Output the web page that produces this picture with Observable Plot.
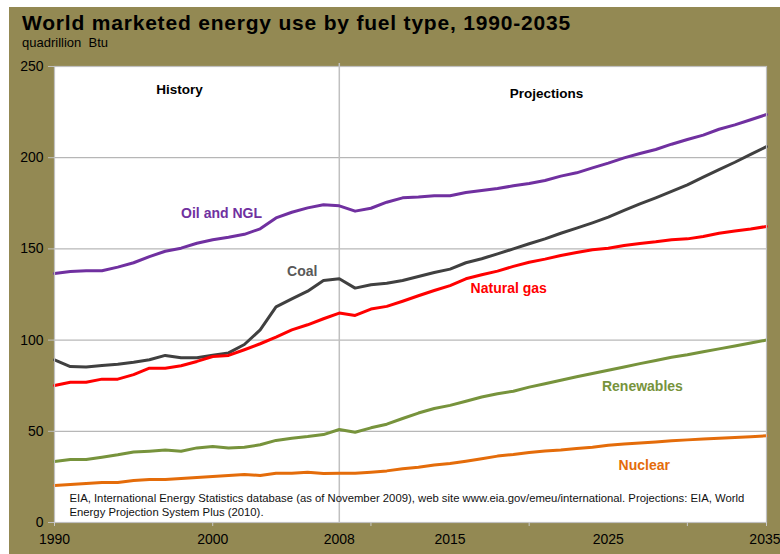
<!DOCTYPE html>
<html><head><meta charset="utf-8">
<script src="https://cdn.jsdelivr.net/npm/d3@7"></script>
<script src="https://cdn.jsdelivr.net/npm/@observablehq/plot@0.6"></script>
<style>
body{margin:0;background:#fff;}
#wrap{position:relative;width:780px;height:554px;overflow:hidden;font-family:"Liberation Sans",Arial,sans-serif;}
#bg{position:absolute;left:9px;top:7px;right:0;bottom:0;background:#938953;}
#title{position:absolute;left:22px;top:11px;font-size:21px;letter-spacing:0.8px;font-weight:bold;color:#000;white-space:nowrap;}
#sub{position:absolute;left:22px;top:35px;font-size:13px;color:#000;white-space:pre;}
#chart{position:absolute;left:0;top:0;}
</style></head>
<body><div id="wrap"><div id="bg"></div><div id="chart"></div>
<div id="title">World marketed energy use by fuel type, 1990-2035</div>
<div id="sub">quadrillion  Btu</div></div>
<script>
const years = [1990,1991,1992,1993,1994,1995,1996,1997,1998,1999,2000,2001,2002,2003,2004,2005,2006,2007,2008,2009,2010,2011,2012,2013,2014,2015,2016,2017,2018,2019,2020,2021,2022,2023,2024,2025,2026,2027,2028,2029,2030,2031,2032,2033,2034,2035];
const oilNGL = [136.5,137.6,138.0,138.0,140.0,142.4,145.8,148.7,150.4,153.1,155.0,156.4,158.0,161.0,167.0,170.1,172.5,174.2,173.6,170.7,172.3,175.6,178.0,178.4,179.1,179.1,180.9,182.0,183.1,184.6,185.9,187.5,189.9,191.7,194.4,197.0,199.9,202.3,204.5,207.4,210.0,212.4,215.6,218.0,220.8,223.7];
const coal = [89.2,85.5,85.2,86.1,86.8,87.9,89.2,91.6,90.3,90.3,91.7,93.0,97.6,105.6,118.2,122.6,126.8,132.7,133.6,128.5,130.3,131.2,132.7,134.9,137.1,138.9,142.4,144.6,147.3,150.0,152.8,155.5,158.6,161.4,164.3,167.4,171.1,174.7,178.0,181.5,185.1,189.3,193.5,197.5,201.8,206.1];
const naturalGas = [75.1,76.9,76.9,78.6,78.6,81.1,84.6,84.6,85.9,88.3,91.0,91.6,94.7,98.0,101.6,105.6,108.4,111.7,114.8,113.5,117.0,118.5,121.3,124.3,127.2,129.9,133.6,135.8,137.8,140.4,142.7,144.4,146.4,148.0,149.5,150.4,151.9,153.0,153.9,155.0,155.5,156.8,158.6,159.8,160.9,162.3];
const renewables = [33.4,34.5,34.5,35.8,37.1,38.6,39.1,39.7,39.1,40.9,41.7,40.9,41.3,42.6,45.0,46.2,47.1,48.2,51.0,49.5,51.9,53.9,57.0,60.0,62.5,64.2,66.5,68.8,70.6,72.0,74.2,76.1,78.0,79.9,81.7,83.5,85.3,87.1,88.8,90.6,92.0,93.6,95.2,96.8,98.4,100.0];
const nuclear = [20.3,20.8,21.4,21.9,21.9,23.0,23.6,23.6,24.1,24.7,25.2,25.8,26.3,25.8,27.0,27.0,27.6,26.9,27.0,27.0,27.6,28.3,29.5,30.3,31.5,32.3,33.6,35.0,36.4,37.3,38.4,39.2,39.8,40.6,41.3,42.4,43.0,43.6,44.2,44.8,45.3,45.8,46.2,46.6,47.0,47.5];

const fuels = ["Oil and NGL","Coal","Natural gas","Renewables","Nuclear"];
const fuelColors = ["#7030a0","#404040","#ff0000","#77933c","#e46c0a"];
const labelColors = ["#7030a0","#595959","#ff0000","#77933c","#e46c0a"];
const fuelValues = [oilNGL, coal, naturalGas, renewables, nuclear];

const yTicks = [0,50,100,150,200,250];
const xLabelYears = [1990,2000,2008,2015,2025];
const lastLabelYear = 2035;
const xTickYears = [1990,2000,2010,2020,2030,2035];
const historyEnd = 2008;

// label anchor positions (year, value) in data units
const labelYears = [1998.0, 2004.7, 2016.3, 2024.6, 2025.65];
const labelValues = [169.4, 137.6, 128.3, 74.6, 31.3];
const headerTexts = ["History","Projections"];
const headerYears = [1997.9, 2021.1];
const headerValues = [237.4, 235.2];
const sourceText = "EIA, International Energy Statistics database (as of November 2009), web site www.eia.gov/emeu/international. Projections: EIA, World\nEnergy Projection System Plus (2010).";

const data = fuels.flatMap((f, k) => years.map((yr, i) => ({fuel: f, year: yr, value: fuelValues[k][i]})));
const labels = fuels.map((f, k) => ({text: f, year: labelYears[k], value: labelValues[k], color: labelColors[k]}));
const headers = headerTexts.map((t, k) => ({text: t, year: headerYears[k], value: headerValues[k]}));

const font = '"Liberation Sans", Arial, sans-serif';
const chart = Plot.plot({
  width: 780, height: 554,
  marginLeft: 54, marginRight: 14, marginTop: 66, marginBottom: 32,
  style: {background: "transparent", fontFamily: font, fontSize: "14px", color: "#000", overflow: "visible"},
  x: {domain: [1990, 2035], label: null},
  y: {domain: [0, 250], label: null},
  color: {domain: fuels, range: fuelColors},
  marks: [
    Plot.frame({fill: "white", stroke: "none"}),
    Plot.gridY(yTicks.slice(1, -1), {stroke: "#a6a6a6", strokeOpacity: 1}),
    Plot.ruleX([historyEnd], {stroke: "#c0c0c0", strokeWidth: 1.5, insetTop: -3}),
    Plot.line(data, {x: "year", y: "value", z: "fuel", stroke: "fuel", strokeWidth: 3, strokeLinejoin: "round"}),
    Plot.frame({stroke: "#c0c0c0", strokeWidth: 1.2}),
    Plot.axisY({ticks: yTicks, tickSize: 6, tickPadding: 5, stroke: "#bfbfbf", fill: "#000", label: null, fontSize: 14}),
    Plot.axisX({ticks: xTickYears, tickSize: 4, tickFormat: () => "", stroke: "#c8c8c8", label: null}),
    Plot.axisX({ticks: xLabelYears, tickSize: 0, tickPadding: 12, tickFormat: d => String(d), fill: "#000", label: null, fontSize: 14}),
    Plot.text([lastLabelYear], {x: d => d, frameAnchor: "bottom", text: d => String(d), textAnchor: "end", lineAnchor: "top", dx: 14, dy: 12, fill: "#000", fontSize: 14}),
    Plot.text(headers, {x: "year", y: "value", text: "text", fill: "#000", fontWeight: "bold", fontSize: 13.5}),
    Plot.text(labels, {x: "year", y: "value", text: "text", fill: d => d.color, textAnchor: "start", fontWeight: "bold", fontSize: 14}),
    Plot.text([sourceText], {frameAnchor: "bottom-left", text: d => d, dx: 15, dy: -7, lineAnchor: "bottom", lineHeight: 1.18, textAnchor: "start", fontSize: 11.3, fill: "#111"})
  ]
});
document.getElementById("chart").appendChild(chart);
</script>
</body></html>
